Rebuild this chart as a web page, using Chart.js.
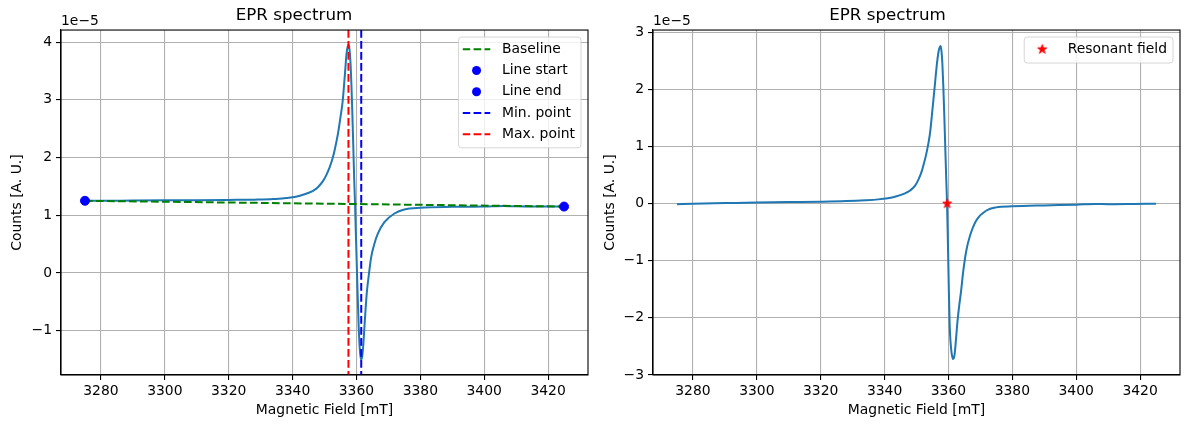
<!DOCTYPE html>
<html lang="en">
<head>
<meta charset="UTF-8">
<title>EPR spectrum</title>
<script src="https://cdn.jsdelivr.net/npm/chart.js"></script>
<style>
  body { margin: 0; background: #fff; }
  .panel { position: absolute; top: 0; }
</style>
</head>
<body>
<div class="panel" style="left:0"><canvas id="rawChart" width="595" height="429"></canvas></div>
<div class="panel" style="left:595px"><canvas id="correctedChart" width="595" height="429"></canvas></div>
<script>
// magnetic field [mT]
const field = [3275, 3280, 3290, 3300, 3310, 3320, 3328, 3334, 3338, 3341,
               3343.5, 3346.4, 3348, 3349.5, 3350.6, 3351.6, 3352.4, 3353.1, 3354.2, 3355.0,
               3355.7, 3356.4, 3356.9, 3357.5, 3357.8, 3358.1, 3358.4, 3358.7, 3359.0, 3359.3,
               3359.55, 3359.8, 3360.1, 3360.4, 3360.7, 3361.0, 3361.3, 3361.5, 3361.8, 3362.1,
               3362.4, 3362.8, 3363.3, 3364.0, 3364.6, 3365.6, 3366.7, 3368.75, 3371.9, 3375,
               3380, 3390, 3400, 3406, 3410, 3418, 3425];
// counts, in units of 1e-5 (left panel, raw)
const rawCounts = [1.25, 1.25, 1.255, 1.258, 1.26, 1.265, 1.27, 1.28, 1.30, 1.32,
                   1.36, 1.42, 1.49, 1.59, 1.70, 1.83, 1.96, 2.11, 2.41, 2.70,
                   2.98, 3.45, 3.80, 3.96, 3.89, 3.68, 3.30, 2.80, 2.22, 1.62,
                   1.22, 0.72, 0.15, -0.42, -0.92, -1.28, -1.46, -1.50, -1.45, -1.28,
                   -1.03, -0.68, -0.31, 0.02, 0.27, 0.50, 0.68, 0.88, 1.03, 1.10,
                   1.13, 1.145, 1.15, 1.16, 1.155, 1.15, 1.15];
// counts with baseline removed, in units of 1e-5 (right panel)
const correctedCounts = [-0.01, 0.0, 0.01, 0.02, 0.028, 0.035, 0.045, 0.06, 0.075, 0.095,
                         0.125, 0.18, 0.23, 0.31, 0.42, 0.56, 0.72, 0.88, 1.22, 1.65,
                         2.05, 2.45, 2.66, 2.76, 2.68, 2.45, 2.05, 1.55, 1.00, 0.45,
                         0.03, -0.60, -1.45, -2.15, -2.45, -2.62, -2.70, -2.72, -2.68, -2.55,
                         -2.35, -2.08, -1.82, -1.51, -1.20, -0.82, -0.57, -0.29, -0.12, -0.065,
                         -0.047, -0.03, -0.017, -0.005, -0.01, -0.005, 0.0];

const baselineField = [3275, 3425];
const baselineCounts = [1.25, 1.15];
const maxPointField = 3357.5;
const minPointField = 3361.5;
const resonantField = 3359.6;
const resonantCounts = 0;

const fieldTicks = [3280, 3300, 3320, 3340, 3360, 3380, 3400, 3420];
const rawTicks = [-1, 0, 1, 2, 3, 4];
const correctedTicks = [-3, -2, -1, 0, 1, 2, 3];

const FONT = 'DejaVu Sans';
Chart.defaults.font.family = FONT;
Chart.defaults.font.size = 13.9;
Chart.defaults.color = '#000';

const BLUE_LINE = '#1f77b4';
const DASH = [7.7, 3.3];

function minus(v) { return (v < 0 ? '\u2212' : '') + Math.abs(v); }

function starImage(r, color) {
  const c = document.createElement('canvas');
  const s = Math.ceil(r * 2 + 3);
  c.width = s; c.height = s;
  const g = c.getContext('2d');
  g.beginPath();
  for (let i = 0; i < 10; i++) {
    const rad = i % 2 ? r * 0.382 : r;
    const a = -Math.PI / 2 + i * Math.PI / 5;
    g.lineTo(s / 2 + rad * Math.cos(a), s / 2 + rad * Math.sin(a));
  }
  g.closePath();
  g.fillStyle = color; g.fill();
  g.strokeStyle = color; g.lineWidth = 1; g.stroke();
  return c;
}
const star = starImage(4.8, 'red');

function scales(yMin, yMax, yTicks, yWidth, yTitlePad) {
  return {
    x: {
      type: 'linear', min: 3267.5, max: 3432.5,
      afterBuildTicks: s => { s.ticks = fieldTicks.map(v => ({ value: v })); },
      afterFit: s => { s.height = 54; },
      ticks: { padding: 3, callback: minus, maxRotation: 0, autoSkip: false },
      grid: { color: '#b0b0b0', lineWidth: 1.1, tickLength: 5, tickColor: '#000', tickWidth: 1.1 },
      border: { color: '#000', width: 1.1 },
      title: { display: true, text: 'Magnetic Field [mT]', padding: { top: 0, bottom: 10.5 } }
    },
    y: {
      type: 'linear', min: yMin, max: yMax,
      afterBuildTicks: s => { s.ticks = yTicks.map(v => ({ value: v })); },
      afterFit: s => { s.width = yWidth; },
      ticks: { padding: 4, callback: minus },
      grid: { color: '#b0b0b0', lineWidth: 1.1, tickLength: 5, tickColor: '#000', tickWidth: 1.1 },
      border: { color: '#000', width: 1.1 },
      title: { display: true, text: 'Counts [A. U.]', padding: { top: yTitlePad, bottom: 0 } }
    }
  };
}

// axvlines, spines and the 1e-5 offset label
function decorPlugin(vlines) {
  return {
    id: 'decor',
    afterDatasetsDraw(chart) {
      const ctx = chart.ctx, a = chart.chartArea;
      ctx.save();
      ctx.lineWidth = 2;
      ctx.setLineDash(DASH);
      vlines.forEach(v => {
        const x = chart.scales.x.getPixelForValue(v.value);
        ctx.strokeStyle = v.color;
        ctx.beginPath();
        ctx.moveTo(x, a.top);
        ctx.lineTo(x, a.bottom);
        ctx.stroke();
      });
      ctx.setLineDash([]);
      ctx.strokeStyle = '#000';
      ctx.lineWidth = 1.1;
      ctx.strokeRect(a.left, a.top, a.right - a.left, a.bottom - a.top);
      ctx.fillStyle = '#000';
      ctx.font = '13.9px "' + FONT + '"';
      ctx.textAlign = 'left';
      ctx.textBaseline = 'middle';
      ctx.fillText('1e\u22125', a.left, a.top - 9);
      ctx.restore();
    }
  };
}

function legendPlugin(entries) {
  return {
    id: 'boxLegend',
    afterDraw(chart) {
      const ctx = chart.ctx, a = chart.chartArea;
      ctx.save();
      ctx.font = '13.9px "' + FONT + '"';
      const textW = Math.max(...entries.map(e => ctx.measureText(e.label).width));
      const w = 4 + 28 + 11.5 + textW + 6;
      const h = 4.8 + 21.2 * entries.length;
      const x0 = a.right - 7 - w, y0 = a.top + 7;
      ctx.beginPath();
      ctx.roundRect(x0, y0, w, h, 3);
      ctx.fillStyle = 'rgba(255,255,255,0.8)';
      ctx.fill();
      ctx.strokeStyle = 'rgba(204,204,204,0.8)';
      ctx.lineWidth = 1;
      ctx.stroke();
      entries.forEach((e, i) => {
        const cy = y0 + 12.3 + 21.2 * i;
        const hx = x0 + 4;
        if (e.type === 'line') {
          ctx.save();
          ctx.beginPath();
          ctx.rect(hx, cy - 3, 28, 6);
          ctx.clip();
          ctx.strokeStyle = e.color;
          ctx.lineWidth = 2;
          ctx.setLineDash(DASH);
          ctx.beginPath();
          ctx.moveTo(hx, cy);
          ctx.lineTo(hx + 28, cy);
          ctx.stroke();
          ctx.restore();
        } else if (e.type === 'dot') {
          ctx.fillStyle = e.color;
          ctx.beginPath();
          ctx.arc(hx + 14, cy, 4.5, 0, Math.PI * 2);
          ctx.fill();
        } else {
          ctx.drawImage(star, hx + 14 - star.width / 2, cy - star.height / 2);
        }
        ctx.fillStyle = '#000';
        ctx.textAlign = 'left';
        ctx.textBaseline = 'middle';
        ctx.fillText(e.label, hx + 39.5, cy);
      });
      ctx.restore();
    }
  };
}

function commonOptions(rightPad, sc) {
  return {
    responsive: false,
    animation: false,
    events: [],
    layout: { padding: { left: 0, right: rightPad, top: 0, bottom: 0 } },
    plugins: {
      legend: { display: false },
      tooltip: { enabled: false },
      title: {
        display: true, text: 'EPR spectrum', color: '#000',
        font: { size: 16.7, weight: 'normal' },
        padding: { top: 6, bottom: 4 }
      }
    },
    scales: sc
  };
}

function toPoints(xs, ys) { return xs.map((x, i) => ({ x: x, y: ys[i] })); }

new Chart(document.getElementById('rawChart'), {
  type: 'line',
  data: {
    datasets: [
      {
        data: toPoints(field, rawCounts), borderColor: BLUE_LINE, borderWidth: 2,
        pointRadius: 0, cubicInterpolationMode: 'monotone', order: 3
      },
      {
        label: 'Baseline', data: toPoints(baselineField, baselineCounts),
        borderColor: 'green', borderWidth: 2, borderDash: DASH, pointRadius: 0, order: 2
      },
      {
        label: 'Line start', data: [{ x: baselineField[0], y: baselineCounts[0] }], showLine: false,
        pointRadius: 4.5, backgroundColor: 'blue', borderColor: 'blue', order: 1
      },
      {
        label: 'Line end', data: [{ x: baselineField[1], y: baselineCounts[1] }], showLine: false,
        pointRadius: 4.5, backgroundColor: 'blue', borderColor: 'blue', order: 1
      }
    ]
  },
  options: commonOptions(7, scales(-1.77, 4.21, rawTicks, 61, 8.6)),
  plugins: [
    decorPlugin([{ value: minPointField, color: 'blue' }, { value: maxPointField, color: 'red' }]),
    legendPlugin([
      { label: 'Baseline', type: 'line', color: 'green' },
      { label: 'Line start', type: 'dot', color: 'blue' },
      { label: 'Line end', type: 'dot', color: 'blue' },
      { label: 'Min. point', type: 'line', color: 'blue' },
      { label: 'Max. point', type: 'line', color: 'red' }
    ])
  ]
});

new Chart(document.getElementById('correctedChart'), {
  type: 'line',
  data: {
    datasets: [
      {
        data: toPoints(field, correctedCounts), borderColor: BLUE_LINE, borderWidth: 2,
        pointRadius: 0, cubicInterpolationMode: 'monotone', order: 2
      },
      {
        label: 'Resonant field', data: [{ x: resonantField, y: resonantCounts }], showLine: false,
        pointStyle: star, order: 1
      }
    ]
  },
  options: commonOptions(10, scales(-3.0, 3.04, correctedTicks, 58, 6.7)),
  plugins: [
    decorPlugin([]),
    legendPlugin([{ label: 'Resonant field', type: 'star' }])
  ]
});
</script>
</body>
</html>
